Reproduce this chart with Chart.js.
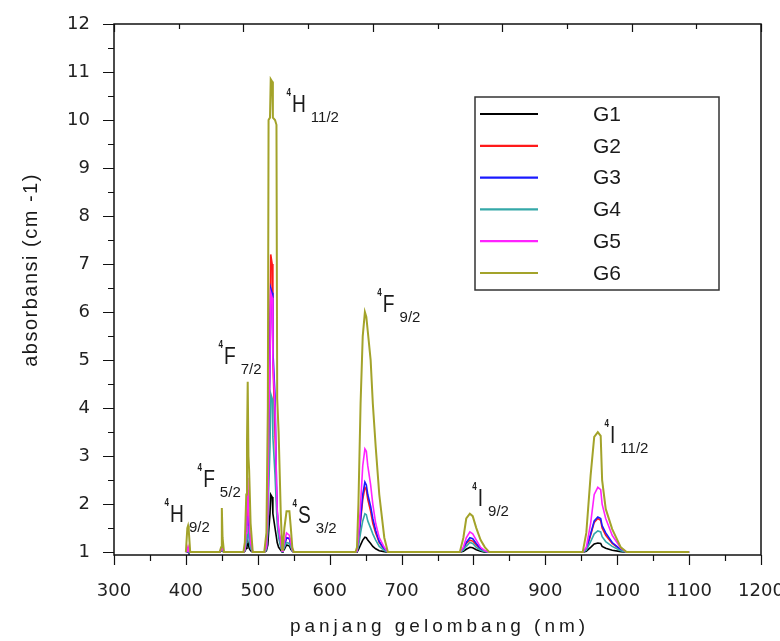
<!DOCTYPE html>
<html>
<head>
<meta charset="utf-8">
<script src="https://cdn.jsdelivr.net/npm/chart.js@4.4.1/dist/chart.umd.min.js"></script>
<style>
  html, body { margin: 0; padding: 0; background: #fff; }
  #wrap { width: 780px; height: 641px; }
</style>
</head>
<body>
<div id="wrap"><canvas id="myChart" width="780" height="641"></canvas></div>
<script>
// wavelength grid (nm), shared by all samples
const wavelength = [400, 402, 403, 404, 406,
  447, 449, 450, 451, 453,
  480, 482, 484, 485, 486, 487, 488, 490, 493,
  509, 512, 514, 515, 517, 518, 520, 521, 524, 526, 527, 529, 532, 534,
  535, 537, 540, 544, 546, 548, 550,
  636, 638, 640, 643, 646, 649, 651, 653, 657, 660, 664, 669, 676, 681,
  781, 786, 790, 795, 799, 804, 810, 816, 822,
  952, 957, 963, 968, 973, 977, 979, 984, 993, 1005, 1013,
  1100];

// absorbansi for each sample
const G1 = [1.0, 1.0, 1.04, 1.0, 1.0,
  1.0, 1.02, 1.08, 1.02, 1.0,
  1.0, 1.02, 1.08, 1.15, 1.22, 1.15, 1.08, 1.03, 1.0,
  1.0, 1.03, 1.15, 1.4, 1.8, 2.2, 2.15, 1.8, 1.5, 1.3, 1.2, 1.1, 1.04, 1.0,
  1.02, 1.06, 1.15, 1.13, 1.06, 1.02, 1.0,
  1.0, 1.0, 1.05, 1.15, 1.25, 1.31, 1.3, 1.25, 1.18, 1.12, 1.07, 1.03, 1.01, 1.0,
  1.0, 1.02, 1.06, 1.1, 1.09, 1.05, 1.02, 1.0, 1.0,
  1.0, 1.02, 1.1, 1.17, 1.19, 1.18, 1.12, 1.08, 1.04, 1.01, 1.0,
  1.0];
const G2 = [1.0, 1.01, 1.08, 1.01, 1.0,
  1.0, 1.03, 1.15, 1.05, 1.0,
  1.0, 1.04, 1.35, 1.8, 2.3, 1.85, 1.5, 1.15, 1.0,
  1.0, 1.08, 1.6, 3.0, 5.5, 7.2, 7.0, 5.0, 3.5, 2.2, 1.8, 1.4, 1.15, 1.02,
  1.04, 1.15, 1.3, 1.28, 1.15, 1.04, 1.0,
  1.0, 1.02, 1.2, 1.65, 2.1, 2.35, 2.3, 2.1, 1.85, 1.6, 1.4, 1.2, 1.06, 1.0,
  1.0, 1.06, 1.18, 1.25, 1.23, 1.15, 1.06, 1.02, 1.0,
  1.0, 1.06, 1.35, 1.62, 1.7, 1.66, 1.5, 1.35, 1.18, 1.05, 1.0,
  1.0];
const G3 = [1.0, 1.01, 1.06, 1.01, 1.0,
  1.0, 1.04, 1.18, 1.06, 1.0,
  1.0, 1.04, 1.3, 1.5, 1.75, 1.55, 1.35, 1.12, 1.0,
  1.0, 1.08, 1.7, 3.2, 5.0, 6.5, 6.4, 5.2, 4.25, 2.4, 1.85, 1.45, 1.15, 1.02,
  1.04, 1.15, 1.3, 1.28, 1.15, 1.04, 1.0,
  1.0, 1.02, 1.2, 1.7, 2.2, 2.46, 2.4, 2.2, 1.95, 1.7, 1.45, 1.22, 1.06, 1.0,
  1.0, 1.07, 1.2, 1.3, 1.28, 1.18, 1.07, 1.02, 1.0,
  1.0, 1.06, 1.38, 1.65, 1.73, 1.7, 1.55, 1.4, 1.2, 1.05, 1.0,
  1.0];
const G4 = [1.0, 1.01, 1.05, 1.01, 1.0,
  1.0, 1.03, 1.12, 1.04, 1.0,
  1.0, 1.03, 1.2, 1.38, 1.55, 1.4, 1.25, 1.08, 1.0,
  1.0, 1.05, 1.4, 2.2, 3.2, 4.3, 4.2, 3.4, 2.6, 1.9, 1.6, 1.3, 1.1, 1.01,
  1.03, 1.1, 1.2, 1.18, 1.1, 1.03, 1.0,
  1.0, 1.01, 1.12, 1.4, 1.65, 1.8, 1.78, 1.65, 1.5, 1.38, 1.25, 1.12, 1.03, 1.0,
  1.0, 1.04, 1.12, 1.2, 1.18, 1.1, 1.04, 1.01, 1.0,
  1.0, 1.04, 1.22, 1.38, 1.44, 1.42, 1.32, 1.22, 1.12, 1.03, 1.0,
  1.0];
const G5 = [1.0, 1.02, 1.1, 1.02, 1.0,
  1.0, 1.05, 1.22, 1.08, 1.0,
  1.0, 1.05, 1.4, 1.9, 2.55, 2.0, 1.6, 1.2, 1.0,
  1.0, 1.1, 1.8, 3.5, 5.0, 6.4, 6.3, 5.0, 4.0, 2.5, 1.9, 1.5, 1.2, 1.02,
  1.05, 1.2, 1.4, 1.35, 1.2, 1.05, 1.0,
  1.0, 1.02, 1.3, 2.0, 2.8, 3.15, 3.1, 2.8, 2.4, 2.0, 1.6, 1.3, 1.1, 1.0,
  1.0, 1.1, 1.3, 1.42, 1.38, 1.25, 1.1, 1.03, 1.0,
  1.0, 1.1, 1.6, 2.2, 2.35, 2.3, 2.0, 1.7, 1.35, 1.08, 1.0,
  1.0];
const G6 = [1.0, 1.5, 1.55, 1.45, 1.0,
  1.0, 1.1, 1.92, 1.3, 1.0,
  1.0, 1.2, 2.2, 3.3, 4.55, 3.0, 2.7, 1.6, 1.0,
  1.0, 1.4, 4.0, 10.0, 10.05, 10.85, 10.8, 10.05, 10.0, 9.9, 4.2, 3.5, 1.8, 1.05,
  1.1, 1.5, 1.85, 1.85, 1.5, 1.1, 1.0,
  1.0, 1.1, 2.0, 4.1, 5.5, 6.0, 5.9, 5.6, 5.0, 4.1, 3.2, 2.2, 1.3, 1.0,
  1.0, 1.3, 1.7, 1.8, 1.75, 1.5, 1.25, 1.1, 1.0,
  1.0, 1.4, 2.6, 3.4, 3.5, 3.42, 2.5, 1.9, 1.48, 1.1, 1.0,
  1.0];

const seriesNames = ['G1', 'G2', 'G3', 'G4', 'G5', 'G6'];
const seriesValues = [G1, G2, G3, G4, G5, G6];
const seriesColors = ['#000000', '#ff1a1a', '#1a1aff', '#35a8a8', '#ff22ff', '#a3a32a'];

const xTicks = [300, 400, 500, 600, 700, 800, 900, 1000, 1100, 1200];
const yTicks = [1, 2, 3, 4, 5, 6, 7, 8, 9, 10, 11, 12];

// band names: letter, subscript
const bandLetters = ['H', 'F', 'F', 'H', 'S', 'F', 'I', 'I'];
const bandSubs = ['9/2', '5/2', '7/2', '11/2', '3/2', '9/2', '9/2', '11/2'];
// where each band name sits (nm, absorbansi of the letter baseline)
const bandAt = [[378, 1.63], [424, 2.35], [453, 4.92], [547.6, 10.17],
  [556, 1.6], [674, 6.0], [806, 1.96], [990, 3.27]];

const ctx = document.getElementById('myChart');

const frameAndTicks = {
  id: 'frameAndTicks',
  afterDraw(chart) {
    const c = chart.ctx;
    const a = chart.chartArea;
    const x = chart.scales.x, y = chart.scales.y;
    c.save();
    c.strokeStyle = '#111';
    c.lineWidth = 1.5;
    c.strokeRect(a.left, a.top, a.right - a.left, a.bottom - a.top);

    c.lineWidth = 1.2;
    c.beginPath();
    for (let v = 300; v <= 1200; v += 50) {
      const px = Math.round(x.getPixelForValue(v)) + 0.5;
      const len = v % 100 === 0 ? 10 : 6;
      c.moveTo(px, a.bottom); c.lineTo(px, a.bottom + len);
    }
    for (let v = 300; v <= 1200; v += 90) {
      const px = Math.round(x.getPixelForValue(v)) + 0.5;
      const len = (v - 300) % 180 === 0 ? 8 : 5;
      c.moveTo(px, a.top); c.lineTo(px, a.top + len);
    }
    for (let v = 1; v <= 12; v += 0.5) {
      const py = Math.round(y.getPixelForValue(v)) + 0.5;
      const len = v % 1 === 0 ? 11 : 6;
      c.moveTo(a.left, py); c.lineTo(a.left - len, py);
    }
    c.stroke();

    // axis titles
    c.fillStyle = '#1a1a1a';
    c.font = '19px "Liberation Sans", Arial, sans-serif';
    c.letterSpacing = '4px';
    c.textAlign = 'center';
    c.textBaseline = 'alphabetic';
    c.fillText('panjang gelombang (nm)', (a.left + a.right) / 2 + 2, 632);

    c.save();
    c.font = '20px "Liberation Sans", Arial, sans-serif';
    c.letterSpacing = '1.5px';
    c.translate(37, 270);
    c.rotate(-Math.PI / 2);
    c.fillText('absorbansi (cm -1)', 0, 0);
    c.restore();
    c.letterSpacing = '0px';

    // band names
    c.textAlign = 'left';
    bandLetters.forEach((L, i) => {
      const px = x.getPixelForValue(bandAt[i][0]);
      const py = y.getPixelForValue(bandAt[i][1]);
      c.save();
      c.translate(px, py);
      c.save();
      c.scale(0.8, 1);
      c.font = '24px "Liberation Sans", Arial, sans-serif';
      c.fillText(L, 0, 0);
      const w = c.measureText(L).width * 0.8;
      c.font = 'bold 10px "Liberation Sans", Arial, sans-serif';
      c.fillText('4', -7, -16);
      c.restore();
      c.font = '15px "Liberation Sans", Arial, sans-serif';
      c.fillText(bandSubs[i], w + 5, 10);
      c.restore();
    });

    // legend box
    const bx = 475, by = 97, bw = 244, bh = 193;
    c.strokeStyle = '#333';
    c.lineWidth = 1.5;
    c.strokeRect(bx, by, bw, bh);
    c.font = '21px "Liberation Sans", Arial, sans-serif';
    c.textAlign = 'center';
    c.textBaseline = 'middle';
    chart.data.datasets.forEach((ds, i) => {
      const ry = 114 + i * 31.8;
      c.strokeStyle = ds.borderColor;
      c.lineWidth = 2.2;
      c.beginPath();
      c.moveTo(bx + 5, ry); c.lineTo(bx + 63, ry);
      c.stroke();
      c.fillStyle = '#1a1a1a';
      c.fillText(ds.label, 607, ry + 1);
    });
    c.restore();
  }
};

const chart = new Chart(ctx, {
  type: 'line',
  data: {
    datasets: seriesNames.map((name, k) => ({
      label: name,
      data: wavelength.map((w, i) => ({ x: w, y: seriesValues[k][i] })),
      borderColor: seriesColors[k],
      backgroundColor: seriesColors[k],
      borderWidth: k === 5 ? 2 : 1.6,
      pointRadius: 0,
      fill: false,
      tension: 0,
      order: 5 - k
    }))
  },
  options: {
    responsive: false,
    animation: false,
    devicePixelRatio: 1,
    layout: { padding: { top: 24, right: 19, left: 0, bottom: 0 } },
    plugins: { legend: { display: false }, tooltip: { enabled: false } },
    scales: {
      x: {
        type: 'linear', min: 300, max: 1200,
        grid: { display: false }, border: { display: false },
        afterBuildTicks: s => { s.ticks = xTicks.map(v => ({ value: v })); },
        afterFit: s => { s.height = 86; s.paddingLeft = 0; s.paddingRight = 0; },
        ticks: { padding: 18, autoSkip: false, maxRotation: 0, color: '#222',
          callback: v => String(v),
          font: { family: 'DejaVu Sans', size: 18 } }
      },
      y: {
        type: 'linear', min: 0.94, max: 12,
        grid: { display: false }, border: { display: false },
        afterBuildTicks: s => { s.ticks = yTicks.map(v => ({ value: v })); },
        afterFit: s => { s.width = 114; s.paddingTop = 0; s.paddingBottom = 0; },
        ticks: { padding: 16, color: '#222',
          callback: v => String(v),
          font: { family: 'DejaVu Sans', size: 18 } }
      }
    }
  },
  plugins: [frameAndTicks]
});
</script>
</body>
</html>
